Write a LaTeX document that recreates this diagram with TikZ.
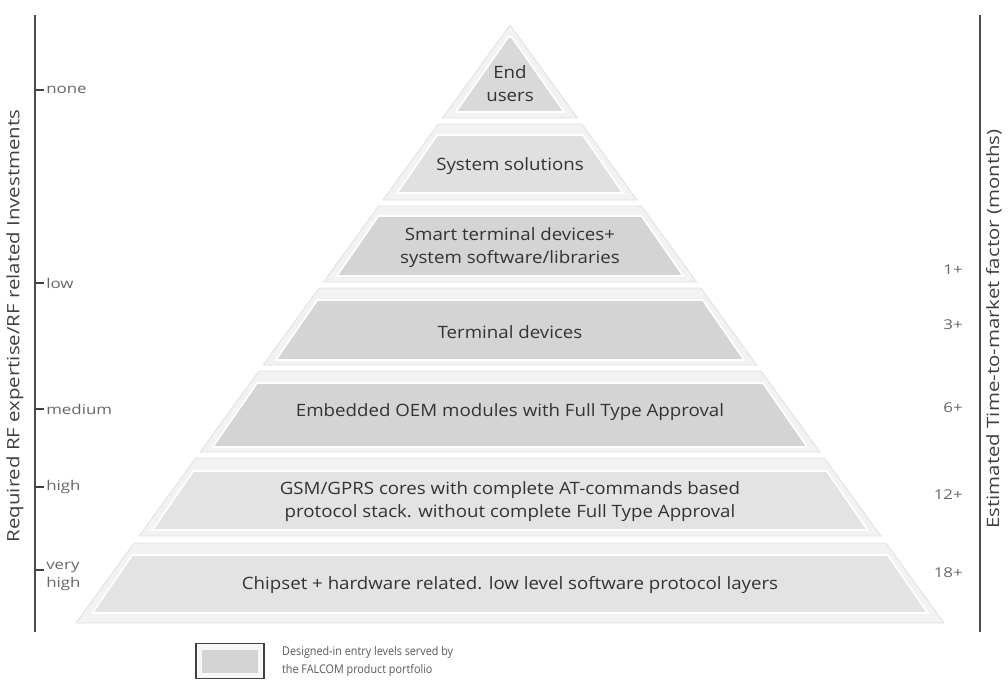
\documentclass[tikz,border=0pt]{standalone}
\usepackage{fontspec}
\setmainfont{Open Sans}
% one pyramid layer: #1 outer top, #2 outer bottom, #3 inner top, #4 inner bottom, #5 inner fill
\newcommand\pyrlayer[5]{%
  \pgfmathsetmacro\hwa{0.7258*(#1-25)}%
  \pgfmathsetmacro\hwb{0.7258*(#2-25)}%
  \pgfmathsetmacro\hwc{max(0.7258*(#3-25)-7,0)}%
  \pgfmathsetmacro\hwd{0.7258*(#4-25)-9}%
  \filldraw[outerband] (510-\hwa,#1) -- (510+\hwa,#1) -- (510+\hwb,#2) -- (510-\hwb,#2) -- cycle;
  \filldraw[innerband,fill=#5] (510-\hwc,#3) -- (510+\hwc,#3) -- (510+\hwd,#4) -- (510-\hwd,#4) -- cycle;
}
\begin{document}
\begin{tikzpicture}[x=1pt,y=-1pt,
  outerband/.style={fill=black!5, draw=black!12, line width=0.8pt},
  innerband/.style={draw=white, line width=1.6pt},
  layertext/.style={text=black!80, font=\fontsize{17}{23}\selectfont, align=center, inner sep=0pt, xscale=1.1},
  ticklabel/.style={text=black!60, font=\fontsize{13.5}{18}\selectfont, inner sep=0pt, align=left, xscale=1.25},
  monthlabel/.style={text=black!60, font=\fontsize{13.5}{16}\selectfont, inner sep=0pt, xscale=1.25},
  axistitle/.style={text=black!75, font=\fontsize{17}{20}\selectfont, rotate=90, xscale=1.2, inner sep=0pt},
  axisline/.style={draw=black!70, line width=2.2pt},
  tickmark/.style={draw=black!75, line width=1.2pt},
  legendtext/.style={text=black!65, font=\fontsize{12}{18}\selectfont, align=left, inner sep=0pt, xscale=0.9},
]
\useasboundingbox (0,0) rectangle (1008,680);

% pyramid layers, top to bottom
\pyrlayer{25}{118}{37}{112}{black!15}
\pyrlayer{124}{200}{135}{193}{black!12}
\pyrlayer{206}{282}{216}{276}{black!17}
\pyrlayer{288}{365}{300}{360}{black!17}
\pyrlayer{371}{452}{383}{447}{black!17}
\pyrlayer{458}{536}{471}{530}{black!11}
\pyrlayer{543}{623}{555}{613}{black!11}

% layer captions
\node[layertext] (enduser) at (510,84) {End\\users};
\node[layertext] (syssol) at (510,166) {System solutions};
\node[layertext] (smart) at (510,248) {Smart terminal devices+\\system software/libraries};
\node[layertext] (terminal) at (510,332) {Terminal devices};
\node[layertext] (oem) at (510,412) {Embedded OEM modules with Full Type Approval};
\node[layertext] (gsm) at (510,502) {GSM/GPRS cores with complete AT-commands based\\protocol stack. without complete Full Type Approval};
\node[layertext] (chipset) at (510,585) {Chipset + hardware related. low level software protocol layers};

% left axis: required expertise
\coordinate (ltop) at (35,15);
\coordinate (lbot) at (35,632);
\draw[axisline] (ltop) -- (lbot);
\foreach \yy/\nm/\txt in {90/none/none, 283/low/low, 409/medium/medium, 487/high/high}{
  \coordinate (t\nm) at (35,\yy);
  \coordinate (e\nm) at (44,\yy);
  \draw[tickmark] (t\nm) -- (e\nm);
  \node[ticklabel, anchor=west] (l\nm) at (46,\yy) {\txt};
}
\coordinate (tvhigh) at (35,570);
\coordinate (evhigh) at (44,570);
\draw[tickmark] (tvhigh) -- (evhigh);
\node[ticklabel, anchor=north west] (lvhigh) at (46,562) {very\\high};
\node[axistitle] (ltitle) at (15,326) {Required RF expertise/RF related Investments};

% right axis: time to market
\coordinate (rtop) at (980,15);
\coordinate (rbot) at (980,632);
\draw[axisline] (rtop) -- (rbot);
\foreach \yy/\nm/\txt in {270/a/1+, 325/b/3+, 408/c/6+, 495/d/12+, 573/e/18+}{
  \node[monthlabel, anchor=east] (m\nm) at (963,\yy) {\txt};
}
\node[axistitle] (rtitle) at (994,329) {Estimated Time-to-market factor (months)};

% legend
\node[draw=black!75, line width=1.8pt, fill=black!3, minimum width=68pt, minimum height=35pt, inner sep=0pt] (legendbox) at (230,661) {};
\node[fill=black!17, minimum width=56pt, minimum height=23pt, inner sep=0pt] (legendfill) at (legendbox.center) {};
\node[legendtext, anchor=west] (legendlabel) at (282,661) {Designed-in entry levels served by\\the FALCOM product portfolio};
\end{tikzpicture}
\end{document}
